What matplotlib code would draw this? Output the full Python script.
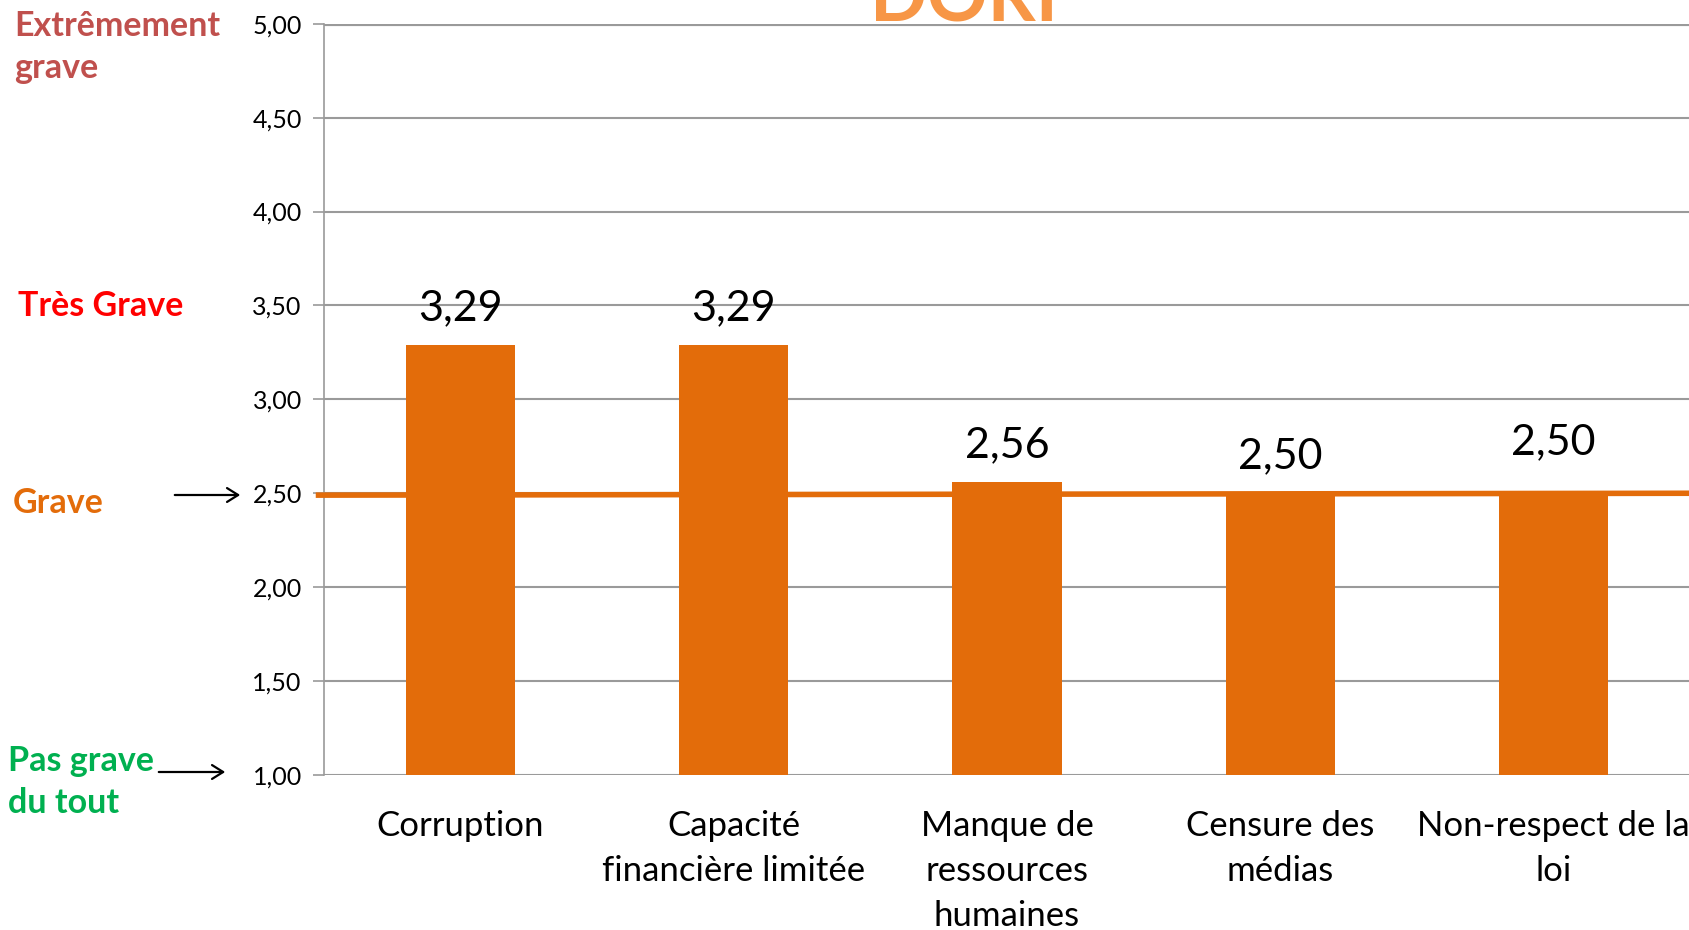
import matplotlib
matplotlib.use("Agg")
import matplotlib.pyplot as plt
import numpy as np

# ---- data ----
categories = ["Corruption", "Capacité\nfinancière limitée", "Manque de\nressources\nhumaines",
              "Censure des\nmédias", "Non-respect de la\nloi"]
values = [3.29, 3.29, 2.56, 2.50, 2.50]
yticks = [1.0, 1.5, 2.0, 2.5, 3.0, 3.5, 4.0, 4.5, 5.0]
reference_level = 2.5
title = "DORI"
scale_labels = ["Extrêmement\ngrave", "Très Grave", "Grave", "Pas grave\ndu tout"]

# ---- style ----
bar_color = "#E36C0A"
grid_color = "#9A9A9A"
label_pad_px = [37, 37, 37, 37, 51]

plt.rcParams['font.family'] = ['Lato', 'DejaVu Sans']

W, H = 1690, 930
fig = plt.figure(figsize=(W / 100, H / 100), dpi=100)
ax = fig.add_axes([324 / W, 1 - 775 / H, 1 - 324 / W, (775 - 23.7) / H])

x = np.arange(len(categories))
ax.bar(x, values, width=0.40, color=bar_color, zorder=2)
ax.set_xlim(-0.5, len(categories) - 0.5)
ax.set_ylim(1.0, 5.0)
ax.set_yticks(yticks)
ax.set_yticklabels([f"{t:.2f}".replace('.', ',') for t in yticks], fontsize=18)
ax.set_xticks(x)
ax.set_xticklabels(categories, fontsize=25, linespacing=1.5, va='top')
ax.tick_params(axis='x', length=0, pad=25)
ax.tick_params(axis='y', length=8, width=1.2, color=grid_color, pad=8)
ax.yaxis.grid(True, color=grid_color, linewidth=1.5, zorder=0)
ax.set_axisbelow(True)
for s in ['top', 'right', 'bottom']:
    ax.spines[s].set_visible(False)
ax.spines['left'].set_color(grid_color)
ax.spines['left'].set_linewidth(1.2)
ax.axhline(5.0, color=grid_color, linewidth=3, zorder=1)

# reference line
ax.plot([-0.52, len(categories) - 0.5], [reference_level - 0.01, reference_level],
        color=bar_color, linewidth=4, zorder=3, clip_on=False)

# value labels
for xi, v, pad in zip(x, values, label_pad_px):
    ax.annotate(f"{v:.2f}".replace('.', ','), (xi, v), xytext=(0, pad * 0.72),
                textcoords='offset points', ha='center', va='center', fontsize=31, color='black')

# title (cut at top)
fig.text(964 / W, 1 - 21 / H, title, ha='center', va='baseline', fontsize=54,
         fontweight='bold', color='#F79646')

# scale labels
fs = 24.5
fig.text(14 / W, 1 - 47 / H, scale_labels[0], ha='left', va='center', fontsize=fs,
         fontweight='bold', color='#C0504D', linespacing=1.42)
fig.text(18 / W, 1 - 306 / H, scale_labels[1], ha='left', va='center', fontsize=fs,
         fontweight='bold', color='#FF0000')
fig.text(13 / W, 1 - 503 / H, scale_labels[2], ha='left', va='center', fontsize=fs,
         fontweight='bold', color='#E36C0A')
fig.text(8 / W, 1 - 782 / H, scale_labels[3], ha='left', va='center', fontsize=fs,
         fontweight='bold', color='#00B050', linespacing=1.42)

# arrows
fig.add_artist(matplotlib.patches.FancyArrowPatch((172 / W, 1 - 495 / H), (243 / W, 1 - 495 / H),
               transform=fig.transFigure, arrowstyle='->,head_length=8,head_width=5',
               color='black', linewidth=1.6))
fig.add_artist(matplotlib.patches.FancyArrowPatch((156 / W, 1 - 772 / H), (228 / W, 1 - 772 / H),
               transform=fig.transFigure, arrowstyle='->,head_length=8,head_width=5',
               color='black', linewidth=1.6))

fig.savefig("out.png", dpi=100)
